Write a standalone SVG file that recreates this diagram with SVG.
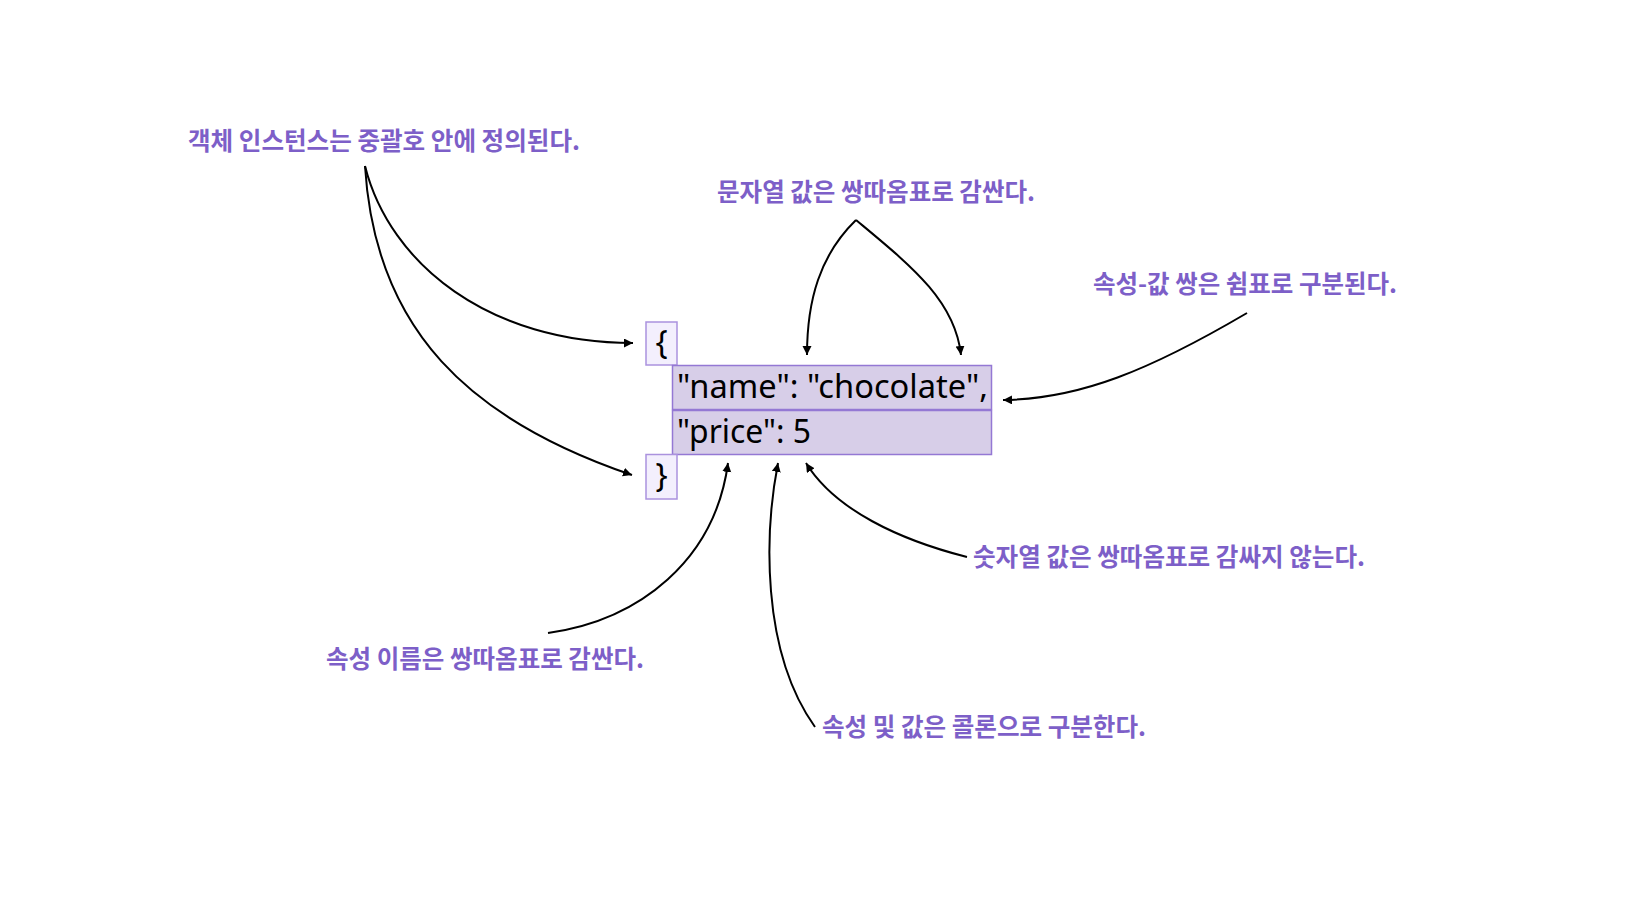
<svg xmlns="http://www.w3.org/2000/svg" width="1635" height="920" viewBox="0 0 1635 920">
<defs>
<style>
.lbl{font-family:"Noto Sans CJK KR","Noto Sans",sans-serif;font-size:24.5px;fill:#7d5fc8;font-weight:700}
.code{font-family:"Noto Sans","Open Sans",sans-serif;font-size:32px;fill:#000}
.brace{fill:#f3effd;stroke:#ab92de;stroke-width:1.5}
.row{fill:#d7cee8;stroke:#9478d4;stroke-width:1.5}
.conn path{fill:none;stroke:#000;stroke-width:2;marker-end:url(#ah)}
</style>
<marker id="ah" markerUnits="userSpaceOnUse" markerWidth="10" markerHeight="10" refX="9" refY="4.5" orient="auto">
<path d="M0,0 L9,4.5 L0,9 z" fill="#000"/>
</marker>
</defs>
<rect width="1635" height="920" fill="#fff"/>
<g id="node-open-brace">
<rect class="brace" x="646" y="322" width="31" height="43"/>
<text class="code" x="661.5" y="354" text-anchor="middle">{</text>
</g>
<g id="node-name-row">
<rect class="row" x="672.5" y="365.5" width="319" height="44"/>
<text class="code" x="677" y="398" textLength="311" lengthAdjust="spacingAndGlyphs">"name": "chocolate",</text>
</g>
<g id="node-price-row">
<rect class="row" x="672.5" y="410.5" width="319" height="44"/>
<text class="code" x="677" y="443" textLength="134" lengthAdjust="spacingAndGlyphs">"price": 5</text>
</g>
<g id="node-close-brace">
<rect class="brace" x="646" y="454.5" width="31" height="44.5"/>
<text class="code" x="661.5" y="487" text-anchor="middle">}</text>
</g>
<g id="label-object"><text class="lbl" x="188" y="150" textLength="392" lengthAdjust="spacingAndGlyphs">객체 인스턴스는 중괄호 안에 정의된다.</text></g>
<g id="label-string"><text class="lbl" x="717" y="201" textLength="318" lengthAdjust="spacingAndGlyphs">문자열 값은 쌍따옴표로 감싼다.</text></g>
<g id="label-pair"><text class="lbl" x="1093" y="293" textLength="304" lengthAdjust="spacingAndGlyphs">속성-값 쌍은 쉼표로 구분된다.</text></g>
<g id="label-number"><text class="lbl" x="973" y="566" textLength="392" lengthAdjust="spacingAndGlyphs">숫자열 값은 쌍따옴표로 감싸지 않는다.</text></g>
<g id="label-name"><text class="lbl" x="326" y="668" textLength="318" lengthAdjust="spacingAndGlyphs">속성 이름은 쌍따옴표로 감싼다.</text></g>
<g id="label-colon"><text class="lbl" x="822" y="736" textLength="324" lengthAdjust="spacingAndGlyphs">속성 및 값은 콜론으로 구분한다.</text></g>
<g id="connectors" class="conn">
<path d="M365,166 C390,265 490,343 633,343"/>
<path d="M365,166 C375,330 470,420 632,475"/>
<path d="M856,220 C820,255 807,300 807,355"/>
<path d="M856,220 C910,265 955,300 961,355"/>
<path d="M1247,313 C1150,370 1080,399 1003,400"/>
<path d="M548,633 C640,620 715,560 728,463"/>
<path d="M815,727 C760,650 765,530 778,463"/>
<path d="M967,557 C900,540 835,510 806,463"/>
</g>
</svg>
